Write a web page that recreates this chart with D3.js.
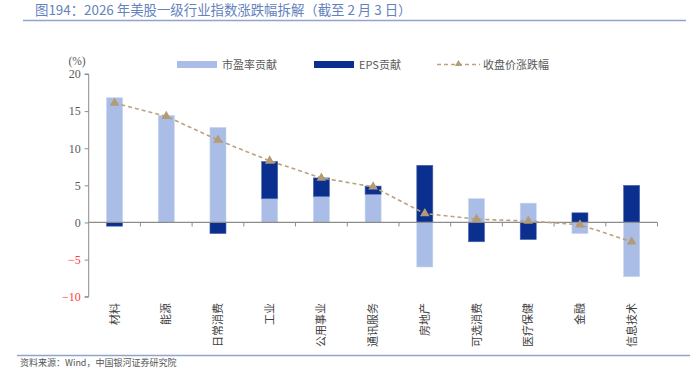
<!DOCTYPE html>
<html><head><meta charset="utf-8">
<script src="https://cdn.jsdelivr.net/npm/d3@7"></script>
<style>
body{margin:0;background:#fff;}
svg{display:block;}
</style></head>
<body>
<svg id="c" width="692" height="368"></svg>
<script>
const categories = ["材料","能源","日常消费","工业","公用事业","通讯服务","房地产","可选消费","医疗保健","金融","信息技术"];
const peContrib  = [16.8, 14.4, 12.8, 3.2, 3.5, 3.8, -6.0, 3.2, 2.6, -1.5, -7.3];
const epsContrib = [-0.5, 0.0, -1.5, 5.0, 2.5, 1.1, 7.7, -2.6, -2.3, 1.3, 5.0];
const priceChange = [16.1, 14.3, 11.1, 8.3, 6.0, 4.8, 1.2, 0.45, 0.2, -0.3, -2.6];
const yTicks = [20, 15, 10, 5, 0, -5, -10];
const seriesNames = ["市盈率贡献", "EPS贡献", "收盘价涨跌幅"];
const titleText = "图194：2026 年美股一级行业指数涨跌幅拆解（截至 2 月 3 日）";
const sourceText = "资料来源：Wind，中国银河证券研究院";

const svg = d3.select("#c");
const lightC = "#a9bde6", darkC = "#0a2f8f", lineC = "#bba27e", triC = "#b39b76";
const cjk = "'Noto Sans CJK SC', 'Noto Sans', sans-serif";
const numF = "'Liberation Serif', 'DejaVu Serif', serif";

// title
svg.append("text").attr("x", 35).attr("y", 15).attr("font-family", cjk)
  .attr("font-size", 13.4).attr("fill", "#6482bc").text(titleText);
svg.append("line").attr("x1", 23).attr("x2", 686).attr("y1", 20.5).attr("y2", 20.5)
  .attr("stroke", "#8ea3cf").attr("stroke-width", 1.5);
// bottom rule & source
svg.append("line").attr("x1", 17).attr("x2", 690).attr("y1", 355.5).attr("y2", 355.5)
  .attr("stroke", "#8ea3cf").attr("stroke-width", 1.5);
svg.append("text").attr("x", 20).attr("y", 366).attr("font-family", cjk)
  .attr("font-size", 9).attr("fill", "#555").text(sourceText);

const x = d3.scaleBand().domain(categories).range([88.7, 657.5]).paddingInner(0.69).paddingOuter(0.345);
const y = d3.scaleLinear().domain([-10, 20]).range([296.7, 74]);

// y axis
const yAxis = svg.append("g").attr("transform", "translate(88.7,0)")
  .call(d3.axisLeft(y).tickValues(yTicks).tickSize(4).tickPadding(4));
yAxis.select(".domain").attr("stroke", "#8c8c8c").attr("d", "M-4," + y(20) + "H0V" + y(-10) + "H-4");
yAxis.selectAll(".tick line").attr("stroke", "#8c8c8c");
yAxis.selectAll(".tick text").attr("font-family", numF).attr("font-size", 12)
  .attr("fill", d => d < 0 ? "#ff3b3b" : "#595959");
svg.append("text").attr("x", 77).attr("y", 65).attr("text-anchor", "middle")
  .attr("font-family", numF).attr("font-size", 11.5).attr("fill", "#595959").text("(%)");

// bars
const rows = categories.map((c, i) => ({cat: c, pe: peContrib[i], eps: epsContrib[i]}));
const stack = d3.stack().keys(["pe", "eps"]).offset(d3.stackOffsetDiverging)(rows);
const colors = [lightC, darkC];
stack.forEach((s, si) => {
  svg.append("g").selectAll("rect").data(s).join("rect")
    .attr("x", d => x(d.data.cat))
    .attr("width", x.bandwidth())
    .attr("y", d => y(Math.max(d[0], d[1])))
    .attr("height", d => Math.abs(y(d[0]) - y(d[1])))
    .attr("fill", colors[si])
    .attr("stroke", si === 0 ? "#c8d5f0" : "#4c66ad")
    .attr("stroke-width", 0.6);
});

// x axis (at zero)
const step = x.step();
const bounds = d3.range(categories.length + 1).map(i => 88.7 + i * step);
const xg = svg.append("g");
xg.append("line").attr("x1", 88.7).attr("x2", bounds[bounds.length - 1]).attr("y1", y(0)).attr("y2", y(0))
  .attr("stroke", "#8c8c8c").attr("stroke-width", 1.2);
xg.selectAll("line.t").data(bounds.slice(1)).join("line").attr("class", "t")
  .attr("x1", d => d).attr("x2", d => d).attr("y1", y(0)).attr("y2", y(0) + 4)
  .attr("stroke", "#8c8c8c");

// x labels
svg.append("g").selectAll("text").data(categories).join("text")
  .attr("transform", d => `translate(${x(d) + x.bandwidth() / 2 + 4},303) rotate(-90)`)
  .attr("text-anchor", "end").attr("font-family", cjk).attr("font-size", 11)
  .attr("fill", "#404040").text(d => d);

// line
const pts = categories.map((c, i) => [x(c) + x.bandwidth() / 2, y(priceChange[i])]);
svg.append("path").attr("d", d3.line()(pts)).attr("fill", "none")
  .attr("stroke", lineC).attr("stroke-width", 1.6).attr("stroke-dasharray", "4,3");
const tri = d3.symbol().type(d3.symbolTriangle).size(40);
svg.append("g").selectAll("path").data(pts).join("path")
  .attr("transform", d => `translate(${d[0]},${d[1]})`).attr("d", tri).attr("fill", triC);

// legend
const lg = svg.append("g").attr("font-family", cjk).attr("font-size", 11).attr("fill", "#595959");
lg.append("rect").attr("x", 177).attr("y", 61).attr("width", 40).attr("height", 7).attr("fill", lightC);
lg.append("text").attr("x", 222).attr("y", 68.5).text(seriesNames[0]);
lg.append("rect").attr("x", 314).attr("y", 61).attr("width", 40).attr("height", 7).attr("fill", darkC);
lg.append("text").attr("x", 359).attr("y", 68.5).text(seriesNames[1]);
lg.append("line").attr("x1", 437).attr("x2", 480).attr("y1", 64.5).attr("y2", 64.5)
  .attr("stroke", lineC).attr("stroke-width", 1.6).attr("stroke-dasharray", "4,3");
lg.append("path").attr("transform", "translate(458.5,64)").attr("d", d3.symbol().type(d3.symbolTriangle).size(22)).attr("fill", triC);
lg.append("text").attr("x", 483).attr("y", 68.5).text(seriesNames[2]);
</script>
</body></html>
